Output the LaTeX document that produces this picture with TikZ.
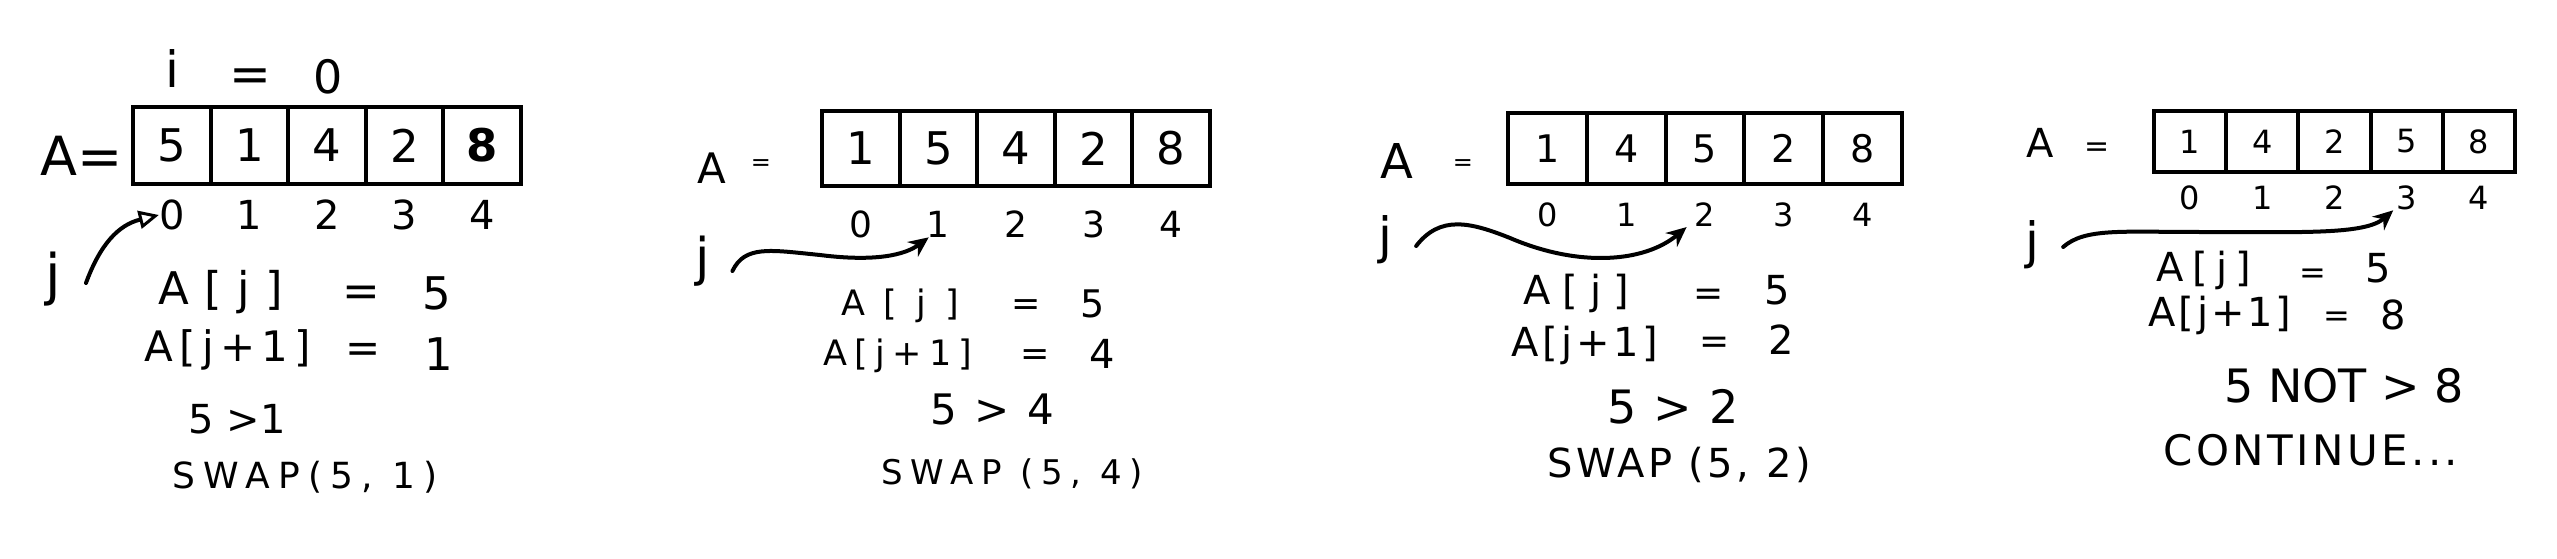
\documentclass[tikz,border=0pt]{standalone}
\usepackage{fontspec}
\setmainfont{DejaVu Sans}
\usetikzlibrary{arrows.meta}
\begin{document}
\begin{tikzpicture}[x=1pt,y=-1pt,
  txt/.style 2 args={inner sep=0,font=\fontsize{#1}{#1}\selectfont\addfontfeature{LetterSpace=#2}},
  cellbox/.style n args={3}{draw,line width=4,minimum width=#1,minimum height=#2,inner sep=0,font=\fontsize{#3}{#3}\selectfont},
  conn/.style={line width=4,line cap=round},
  opentip/.style={-{Triangle[open,length=20,width=18,line width=3]}},
  solidtip/.style={-{Stealth[length=20,width=18]}}]
\useasboundingbox (0,0) rectangle (2557,559);

% ---------------- Panel 1 ----------------
\node[txt={50}{0}] (p1i) at (172,69) {i};
\node[txt={50}{0}] (p1eq) at (250,80) {=};
\node[txt={46}{0}] (p1zero) at (328,77) {0};
\node[txt={54}{0}] (p1A) at (82,156) {A=};
\foreach \v [count=\k from 0] in {5,1,4,2,\textbf{8}}
  \node[cellbox={77.6}{77}{45}] (p1c\k) at ({171.8+77.6*\k},145.5) {\v};
\foreach \k in {0,...,4}
  \node[txt={40}{0}] (p1x\k) at ({171.8+77.6*\k},215) {\k};
\node[txt={56}{0}] (p1j) at (53,279) {j};
\draw[conn,opentip] ([xshift=25pt,yshift=-4pt]p1j.east) .. controls (100,245) and (118,225) .. (p1x0.west);
\node[txt={45}{34}] (p1aj) at (221,292) {A[j]};
\node[txt={45}{0}] (p1aje) at (361,296) {=};
\node[txt={45}{0}] (p1ajv) at (437,293) {5};
\node[txt={42}{15}] (p1ak) at (228,350) {A[j+1]};
\node[txt={42}{0}] (p1ake) at (363,353) {=};
\node[txt={45}{0}] (p1akv) at (439,354) {1};
\node[txt={40}{0}] (p1cmp) at (237,419) {5 >1};
\node[txt={36}{23}] (p1swap) at (305,477) {SWAP(5, 1)};

% ---------------- Panel 2 ----------------
\node[txt={42}{0}] (p2A) at (712,168) {A};
\node[txt={24}{0}] (p2eq) at (761,165) {=};
\foreach \v [count=\k from 0] in {1,5,4,2,8}
  \node[cellbox={77.6}{75}{45}] (p2c\k) at ({860.8+77.6*\k},148.5) {\v};
\foreach \k in {0,...,4}
  \node[txt={36}{0}] (p2x\k) at ({860.8+77.6*\k},224) {\k};
\node[txt={52}{0}] (p2j) at (703,261) {j};
\draw[conn,solidtip] ([xshift=22pt,yshift=-10pt]p2j.east) .. controls (745,245) and (770,250) .. (820,255) .. controls (875,262) and (905,255) .. ([xshift=2pt]p2x1.south west);
\node[txt={35}{54}] (p2aj) at (900,306) {A[j]};
\node[txt={35}{0}] (p2aje) at (1026,308) {=};
\node[txt={38}{0}] (p2ajv) at (1093,304) {5};
\node[txt={35}{21}] (p2ak) at (898,356) {A[j+1]};
\node[txt={35}{0}] (p2ake) at (1035,358) {=};
\node[txt={40}{0}] (p2akv) at (1102,354) {4};
\node[txt={42}{10}] (p2cmp) at (992,409) {5 > 4};
\node[txt={34}{23}] (p2swap) at (1012,474) {SWAP (5, 4)};

% ---------------- Panel 3 ----------------
\node[txt={48}{0}] (p3A) at (1397,161) {A};
\node[txt={24}{0}] (p3eq) at (1463,165) {=};
\foreach \v [count=\k from 0] in {1,4,5,2,8}
  \node[cellbox={78.8}{71}{38}] (p3c\k) at ({1547.4+78.8*\k},148.5) {\v};
\foreach \k in {0,...,4}
  \node[txt={32}{0}] (p3x\k) at ({1547.4+78.8*\k},215) {\k};
\node[txt={50}{0}] (p3j) at (1385,240) {j};
\draw[conn,solidtip] ([xshift=24pt,yshift=-6pt]p3j.east) .. controls (1440,215) and (1470,222) .. (1510,238) .. controls (1580,268) and (1645,262) .. ([xshift=-8pt]p3x2.south west);
\node[txt={40}{30}] (p3aj) at (1576,293) {A[j]};
\node[txt={36}{0}] (p3aje) at (1709,297) {=};
\node[txt={40}{0}] (p3ajv) at (1777,290) {5};
\node[txt={40}{9}] (p3ak) at (1585,345) {A[j+1]};
\node[txt={36}{0}] (p3ake) at (1715,345) {=};
\node[txt={40}{0}] (p3akv) at (1781,340) {2};
\node[txt={46}{5}] (p3cmp) at (1673,407) {5 > 2};
\node[txt={40}{9}] (p3swap) at (1679,465) {SWAP (5, 2)};

% ---------------- Panel 4 ----------------
\node[txt={40}{0}] (p4A) at (2040,143) {A};
\node[txt={30}{0}] (p4eq) at (2097,150) {=};
\foreach \v [count=\k from 0] in {1,4,2,5,8}
  \node[cellbox={72.2}{61}{32}] (p4c\k) at ({2190+72.2*\k},141.5) {\v};
\foreach \k in {0,...,4}
  \node[txt={32}{0}] (p4x\k) at ({2190+72.2*\k},198) {\k};
\node[txt={50}{0}] (p4j) at (2032,245) {j};
\draw[conn,solidtip] ([xshift=24pt,yshift=-2pt]p4j.east) .. controls (2085,228) and (2120,232) .. (2200,232) .. controls (2300,232) and (2365,235) .. ([xshift=-3pt]p4x3.south west);
\node[txt={40}{21}] (p4aj) at (2204,270) {A[j]};
\node[txt={32}{0}] (p4aje) at (2313,276) {=};
\node[txt={40}{0}] (p4ajv) at (2378,268) {5};
\node[txt={40}{7}] (p4ak) at (2220,315) {A[j+1]};
\node[txt={32}{0}] (p4ake) at (2337,319) {=};
\node[txt={40}{0}] (p4akv) at (2393,315) {8};
\node[txt={46}{0}] (p4cmp) at (2344,386) {5 NOT > 8};
\node[txt={42}{8}] (p4cont) at (2311,450) {CONTINUE...};
\end{tikzpicture}
\end{document}
